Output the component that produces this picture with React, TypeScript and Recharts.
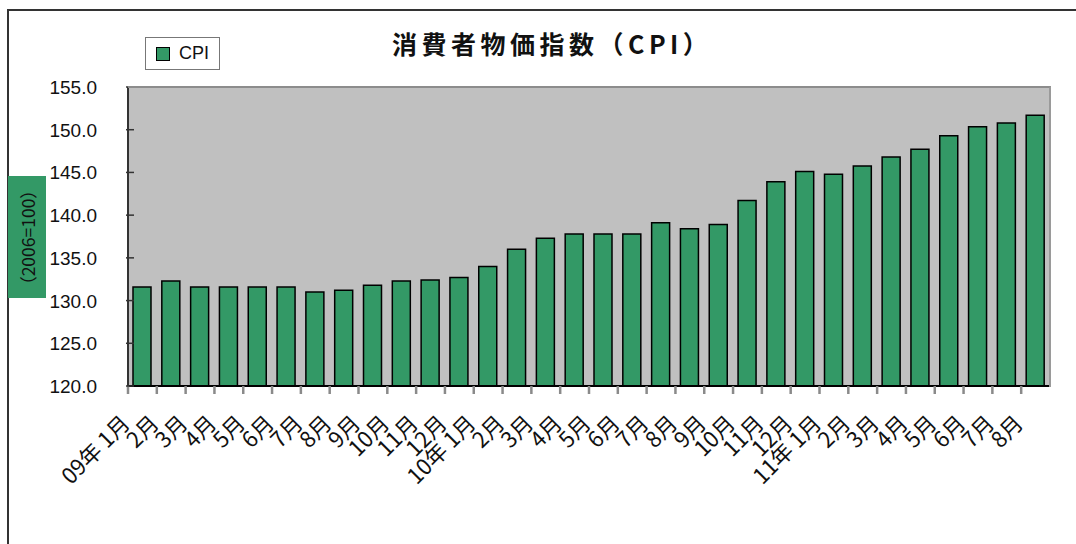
import React from 'react';
import { BarChart, Bar, XAxis, YAxis, CartesianGrid } from 'recharts';

const categories = [
  '09年 1月', '2月', '3月', '4月', '5月', '6月', '7月', '8月', '9月', '10月', '11月', '12月',
  '10年 1月', '2月', '3月', '4月', '5月', '6月', '7月', '8月', '9月', '10月', '11月', '12月',
  '11年 1月', '2月', '3月', '4月', '5月', '6月', '7月', '8月',
];
const cpiValues = [
  131.6, 132.3, 131.6, 131.6, 131.6, 131.6, 131.0, 131.2, 131.8, 132.3, 132.4, 132.7,
  134.0, 136.0, 137.3, 137.8, 137.8, 137.8, 139.1, 138.4, 138.9, 141.7, 143.9, 145.1,
  144.8, 145.75, 146.8, 147.7, 149.3, 150.35, 150.8, 151.7,
];
const yTicks = [120, 125, 130, 135, 140, 145, 150, 155];
const title = '消費者物価指数（CPI）';
const seriesName = 'CPI';
const yLabel = '（2006=100）';

const data = categories.map((c, i) => ({ label: c, cpi: cpiValues[i] }));

const GREEN = '#339966';
const CJK = '"Noto Sans CJK JP", "Noto Sans", sans-serif';

const YTick = (props: any) => {
  const { x, y, payload } = props;
  return (
    <g>
      <line x1={x} y1={y} x2={x + 8} y2={y} stroke="#333" strokeWidth={1.5} />
      <text x={x - 29} y={y} dy={7} textAnchor="end" fontSize={19} fontFamily='"Liberation Sans", Arial, sans-serif' fill="#111">
        {Number(payload.value).toFixed(1)}
      </text>
    </g>
  );
};

const XTick = (props: any) => {
  const { x, y, payload } = props;
  const off = payload.offset || 0;
  const bx = x - off;
  const ax = x - 11;
  const ay = y + 31;
  return (
    <g>
      <line x1={bx} y1={y - 8} x2={bx} y2={y} stroke="#8a8a8a" strokeWidth={2.5} />
      <text
        x={ax}
        y={ay}
        textAnchor="end"
        fill="#111"
        style={{ fontSize: 22, fontFamily: CJK }}
        transform={`rotate(-45, ${ax}, ${ay})`}
      >
        {payload.value}
      </text>
    </g>
  );
};

export default function App() {
  return (
    <div style={{ position: 'absolute', left: 0, top: 0, width: 1076, height: 544, background: '#fff', overflow: 'hidden' }}>
      <div
        style={{
          position: 'absolute', left: 7, top: 9, width: 1100, height: 600,
          border: '2px solid #333', boxSizing: 'border-box',
        }}
      />
      <div style={{ position: 'absolute', left: 0, top: 0 }}>
        <BarChart
          width={1076}
          height={544}
          data={data}
          margin={{ top: 87, right: 26, bottom: 0, left: 0 }}
          barSize={18}
        >
          <CartesianGrid horizontal={false} vertical={false} fill="#c0c0c0" />
          <XAxis
            dataKey="label"
            height={158}
            tickLine={false}
            axisLine={{ stroke: '#000', strokeWidth: 2 }}
            tick={<XTick />}
            interval={0}
          />
          <YAxis
            width={128}
            domain={[120, 155]}
            ticks={yTicks}
            tickLine={false}
            tickSize={0}
            axisLine={{ stroke: '#333', strokeWidth: 2 }}
            tick={<YTick />}
            allowDataOverflow
          />
          <Bar dataKey="cpi" name={seriesName} fill={GREEN} stroke="#000" strokeWidth={1.5} isAnimationActive={false} />
        </BarChart>
      </div>
      <div
        style={{
          position: 'absolute', left: 128, top: 86, width: 923, height: 301,
          borderTop: '2px solid #8c8c8c', borderRight: '2px solid #9a9a9a', boxSizing: 'border-box', pointerEvents: 'none',
        }}
      />
      <div
        style={{
          position: 'absolute', left: 392, top: 28, whiteSpace: 'nowrap',
          fontFamily: CJK, fontWeight: 700, fontSize: 25, lineHeight: '30px', letterSpacing: 4.5, color: '#111',
        }}
      >
        {title}
      </div>
      <div
        style={{
          position: 'absolute', left: 145, top: 37, width: 75, height: 33,
          border: '1px solid #777', boxSizing: 'border-box', background: '#fff',
          display: 'flex', alignItems: 'center',
        }}
      >
        <div style={{ marginLeft: 10, width: 14, height: 14, background: GREEN, border: '1.5px solid #000', boxSizing: 'border-box' }} />
        <span style={{ marginLeft: 9, fontFamily: '"Liberation Sans", Arial, sans-serif', fontSize: 18, color: '#111' }}>{seriesName}</span>
      </div>
      <div
        style={{
          position: 'absolute', left: 8, top: 176, width: 38, height: 122, background: GREEN,
          display: 'flex', alignItems: 'center', justifyContent: 'center',
        }}
      >
        <span style={{ transform: 'rotate(-90deg)', whiteSpace: 'nowrap', fontFamily: CJK, fontSize: 17.5, color: '#111' }}>
          {yLabel}
        </span>
      </div>
    </div>
  );
}
